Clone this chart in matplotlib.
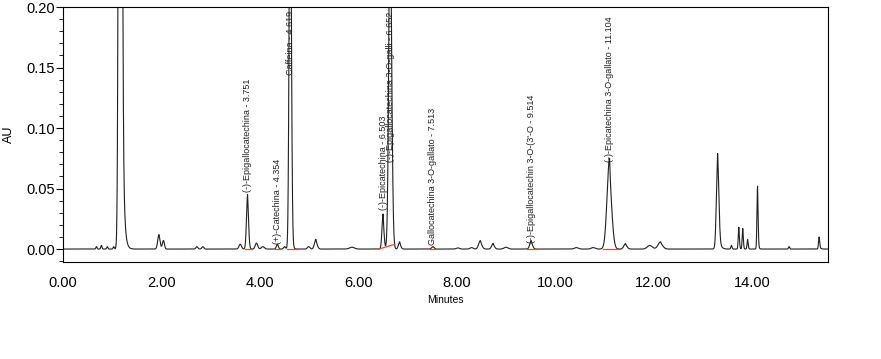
import numpy as np
import matplotlib.pyplot as plt
from matplotlib.ticker import MultipleLocator, FormatStrFormatter

plt.rcParams['font.family'] = ['Liberation Sans', 'DejaVu Sans']

# peak table: retention time (min), height (AU), width (min), tail (min)
rt = [0.68, 0.78, 0.90, 1.03, 1.165, 1.95, 2.04, 2.72, 2.84, 3.60,
      3.751, 3.93, 4.06, 4.354, 4.50, 4.619, 4.99, 5.14, 5.87, 6.503,
      6.652, 6.84, 7.513, 8.02, 8.30, 8.48, 8.74, 9.00, 9.514, 10.43,
      10.77, 11.104, 11.43, 11.92, 12.14, 13.30, 13.58, 13.73, 13.81, 13.91,
      14.11, 14.75, 15.36]
height = [0.002, 0.003, 0.002, 0.002, 1.50, 0.012, 0.007, 0.002, 0.002, 0.004,
          0.045, 0.005, 0.002, 0.004, 0.002, 0.40, 0.002, 0.008, 0.0015, 0.029,
          0.32, 0.006, 0.002, 0.001, 0.0012, 0.007, 0.0047, 0.0015, 0.007, 0.0012,
          0.0012, 0.075, 0.0045, 0.003, 0.006, 0.079, 0.003, 0.018, 0.017, 0.008,
          0.052, 0.002, 0.010]
width = [0.012, 0.012, 0.012, 0.012, 0.025, 0.025, 0.02, 0.02, 0.02, 0.025,
         0.022, 0.025, 0.03, 0.02, 0.02, 0.022, 0.025, 0.03, 0.05, 0.022,
         0.03, 0.025, 0.025, 0.03, 0.03, 0.035, 0.03, 0.04, 0.03, 0.04,
         0.04, 0.05, 0.035, 0.05, 0.05, 0.025, 0.012, 0.012, 0.012, 0.012,
         0.012, 0.012, 0.012]
tail = [0, 0, 0, 0, 0.03, 0.02, 0, 0, 0, 0,
        0.01, 0, 0, 0, 0, 0.015, 0, 0.01, 0, 0.01,
        0.015, 0.01, 0, 0, 0, 0.015, 0.01, 0, 0.01, 0,
        0, 0.02, 0.01, 0, 0.02, 0.03, 0, 0.01, 0.01, 0.008,
        0.012, 0, 0.02]

# peak labels (name - retention time), and where each label starts (AU)
label_name = ["(-)-Epigallocatechina", "(+)-Catechina", "Caffeina", "(-)-Epicatechina",
              "(-)-Epigallocatechina 3-O-galli", "Gallocatechina 3-O-gallato",
              "(-)-Epigallocatechin 3-O-(3'-O", "(-)-Epicatechina 3-O-gallato"]
label_rt = [3.751, 4.354, 4.619, 6.503, 6.652, 7.513, 9.514, 11.104]
label_y = [0.047, 0.004, 0.144, 0.032, 0.072, 0.003, 0.005, 0.072]

# integration baselines (start, end, start AU, end AU)
base_start = [3.69, 4.30, 4.55, 6.42, 7.46, 9.42, 10.98]
base_end = [3.84, 4.41, 4.78, 6.74, 7.57, 9.62, 11.32]
base_y0 = [0, 0, 0, 0, 0, 0, 0]
base_y1 = [0, 0, 0, 0.004, 0, 0, 0]


def peak(x, c, h, s, t):
    left = h * np.exp(-0.5 * ((x - c) / s) ** 2)
    if t <= 0:
        return left
    # tailing side: gaussian core followed by an exponential decay
    right = left * 0.6 + 0.4 * h * np.exp(-np.clip(x - c, 0, None) / t)
    return np.where(x < c, left, right)


x = np.linspace(0, 15.6, 8000)
y = np.zeros_like(x)
for c, h, s, t in zip(rt, height, width, tail):
    y += peak(x, c, h, s, t)

fig = plt.figure(figsize=(8.81, 3.59), dpi=100)
ax = fig.add_axes([0.0715, 0.2702, 0.8683, 0.7103])

ax.plot(x, y, color='#202020', lw=0.8)
for x0, x1, y0, y1 in zip(base_start, base_end, base_y0, base_y1):
    ax.plot([x0, x1], [y0, y1], color='#ff4040', lw=0.9)

for name, r, ly in zip(label_name, label_rt, label_y):
    ax.text(r, ly, f"{name} - {r:.3f}", rotation=90, ha='center', va='bottom',
            fontsize=6.5, color='#202020', clip_on=True)

ax.set_xlim(0, 15.54)
ax.set_ylim(-0.0107, 0.20)
ax.xaxis.set_major_locator(MultipleLocator(2))
ax.xaxis.set_major_formatter(FormatStrFormatter('%.2f'))
ax.yaxis.set_major_locator(MultipleLocator(0.05))
ax.yaxis.set_minor_locator(MultipleLocator(0.01))
ax.yaxis.set_major_formatter(FormatStrFormatter('%.2f'))
ax.tick_params(axis='x', length=0, pad=10, labelsize=10.5)
ax.tick_params(axis='y', which='major', length=5, labelsize=10.5, pad=1)
ax.tick_params(axis='y', which='minor', length=3)
ax.set_xlabel("Minutes", fontsize=7.5, labelpad=4)
ax.set_ylabel("AU", fontsize=9, labelpad=8)

fig.savefig("out.png", dpi=100)
